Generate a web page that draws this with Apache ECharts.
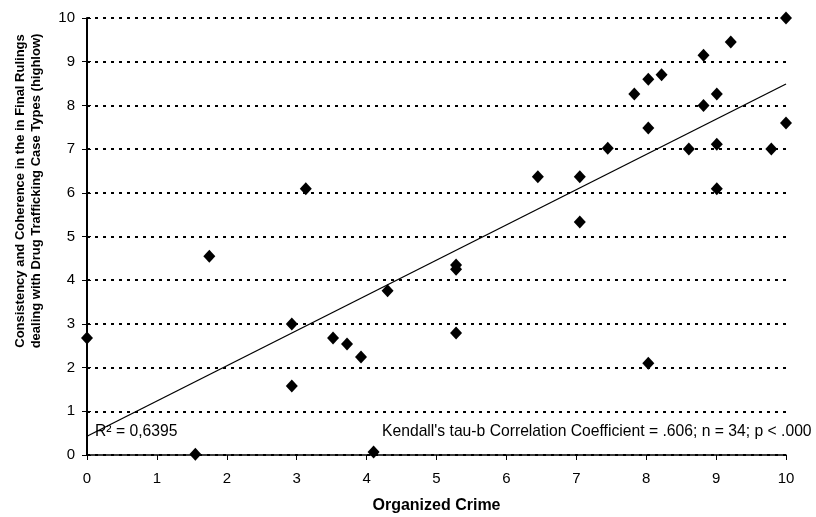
<!DOCTYPE html>
<html><head><meta charset="utf-8">
<script src="https://cdn.jsdelivr.net/npm/echarts@6/dist/echarts.min.js"></script>
<style>html,body{margin:0;padding:0;background:#fff}#c{width:816px;height:517px}</style>
</head><body><div id="c"></div>
<script>
const xValues = [0, 1.55, 1.75, 3.13, 2.93, 2.93, 3.52, 3.72, 3.92, 4.1, 4.3, 5.28, 5.28, 5.28, 6.45, 7.05, 7.05, 7.45, 7.83, 8.03, 8.22, 8.03, 8.03, 8.61, 8.82, 8.82, 9.01, 9.01, 9.01, 9.21, 9.79, 10, 10];
const yValues = [2.68, 0.02, 4.55, 6.09, 3.0, 1.58, 2.68, 2.54, 2.24, 0.07, 3.76, 4.35, 4.25, 2.79, 6.37, 6.37, 5.33, 7.02, 8.26, 8.6, 8.7, 7.48, 2.1, 7.0, 9.15, 8.0, 8.26, 7.11, 6.09, 9.45, 7.0, 10, 7.6];
const trendX = [0, 10];
const trendY = [0.43, 8.49];
const xTicks = [0,1,2,3,4,5,6,7,8,9,10];
const yTicks = [0,1,2,3,4,5,6,7,8,9,10];
const xTitle = 'Organized Crime';
const yTitle = 'Consistency and Coherence in the in Final Rulings\ndealing with Drug Trafficking Case Types (highlow)';
const r2Text = 'R\u00B2 = 0,6395';
const kendallText = "Kendall's tau-b Correlation Coefficient = .606; n = 34; p < .000";

const font = 'Liberation Sans, Arial, sans-serif';
const chart = echarts.init(document.getElementById('c'), null, {renderer: 'canvas'});
const tickFmtX = v => xTicks.includes(v) ? String(v) : '';
const tickFmtY = v => yTicks.includes(v) ? String(v) : '';
chart.setOption({
  animation: false,
  backgroundColor: '#fff',
  grid: {left: 87, right: 30, top: 18, bottom: 62, outerBoundsMode: 'none', containLabel: false},
  xAxis: {
    type: 'value', min: 0, max: 10, interval: 1,
    name: xTitle, nameLocation: 'middle', nameGap: 43,
    nameTextStyle: {fontFamily: font, fontSize: 16, fontWeight: 'bold', color: '#000'},
    axisLine: {show: true, onZero: false, lineStyle: {color: '#000', width: 1.5}},
    axisTick: {show: true, length: 5, lineStyle: {color: '#000'}},
    axisLabel: {fontFamily: font, fontSize: 15, color: '#000', margin: 16, formatter: tickFmtX},
    splitLine: {show: false}
  },
  yAxis: [{
    type: 'value', min: 0, max: 10, interval: 1,
    axisLine: {show: true, onZero: false, lineStyle: {color: '#000', width: 2}},
    axisTick: {show: true, length: 5, lineStyle: {color: '#000'}},
    axisLabel: {fontFamily: font, fontSize: 15, color: '#000', margin: 12, formatter: tickFmtY},
    splitLine: {show: true, lineStyle: {color: '#000', width: 2, type: [3, 5]}}
  }, {
    type: 'value', min: 0, max: 10, interval: 1, position: 'left',
    axisLine: {show: false},
    axisTick: {show: true, inside: true, length: 4, lineStyle: {color: '#000'}},
    axisLabel: {show: false},
    splitLine: {show: false}
  }],
  graphic: [
    {type: 'text', x: 28, y: 191, rotation: Math.PI / 2,
     style: {text: yTitle, fontFamily: font, fontSize: 13, fontWeight: 'bold', fill: '#000',
             lineHeight: 16, align: 'center', verticalAlign: 'middle'}},
    {type: 'text', left: 95, top: 424, style: {text: r2Text, fontFamily: font, fontSize: 15.7, fill: '#000'}},
    {type: 'text', left: 382, top: 424, style: {text: kendallText, fontFamily: font, fontSize: 15.7, fill: '#000'}}
  ],
  series: [
    {
      type: 'line', data: trendX.map((x, i) => [x, trendY[i]]),
      symbol: 'none', lineStyle: {color: '#000', width: 1.3}, z: 3
    },
    {
      type: 'scatter', data: xValues.map((x, i) => [x, yValues[i]]),
      symbol: 'diamond', symbolSize: [12, 13], itemStyle: {color: '#000', opacity: 1}, z: 4
    }
  ]
});
</script></body></html>
